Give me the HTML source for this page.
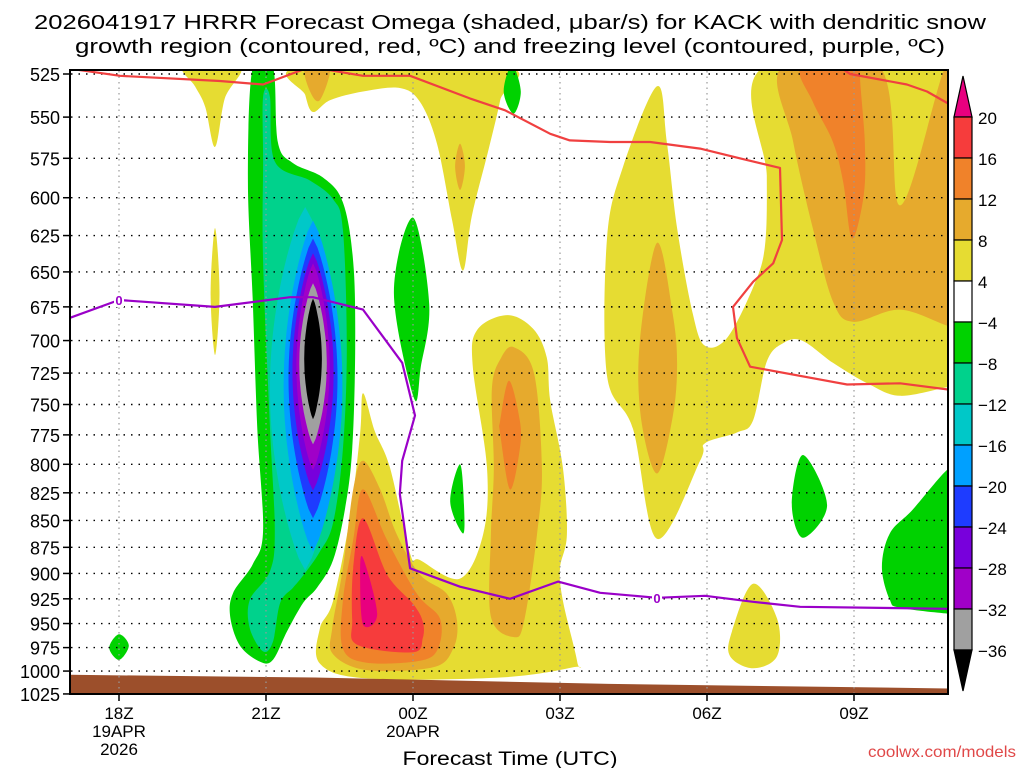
<!DOCTYPE html>
<html><head><meta charset="utf-8"><style>
html,body{margin:0;padding:0;background:#fff;}
svg{display:block;font-family:"Liberation Sans",sans-serif;}
</style></head><body>
<svg id="chart" width="1024" height="768" viewBox="0 0 1024 768" xmlns="http://www.w3.org/2000/svg">
<defs><clipPath id="plotclip"><rect x="70" y="70" width="878" height="624"/></clipPath></defs>
<g id="title">
<text x="510" y="29" text-anchor="middle" font-size="20" textLength="952" lengthAdjust="spacingAndGlyphs">2026041917 HRRR Forecast Omega (shaded, μbar/s) for KACK with dendritic snow</text>
<text x="510" y="53" text-anchor="middle" font-size="20" textLength="870" lengthAdjust="spacingAndGlyphs">growth region (contoured, red, ºC) and freezing level (contoured, purple, ºC)</text>
</g>
<g id="shading" clip-path="url(#plotclip)"></g>
<g id="grid"></g>
<g id="lines" clip-path="url(#plotclip)"></g>
<rect x="70" y="70" width="878" height="624" fill="none" stroke="#000" stroke-width="2"/>
<g id="axes"></g>
<g id="colorbar"></g>
<text x="510" y="765" text-anchor="middle" font-size="19" textLength="215" lengthAdjust="spacingAndGlyphs">Forecast Time (UTC)</text>
<text x="1016" y="757" text-anchor="end" font-size="16" fill="#e04848" textLength="148" lengthAdjust="spacingAndGlyphs">coolwx.com/models</text>
</svg>
<script>
// ---- data ----
const pressureTicks = [525,550,575,600,625,650,675,700,725,750,775,800,825,850,875,900,925,950,975,1000,1025];
const timeTickHours = [18,21,24,27,30,33];
const timeTickLabels = [["18Z","19APR","2026"],["21Z"],["00Z","20APR"],["03Z"],["06Z"],["09Z"]];
const colorLevels = [20,16,12,8,4,-4,-8,-12,-16,-20,-24,-28,-32,-36];
const levelColors = ["#f63c3c","#f0822a","#e6aa2d","#e6dc32","#ffffff","#00d200","#00d28c","#00c8c8","#00a0ff","#1e3cff","#7800dc","#a000c8","#a0a0a0"];
const surfaceHours = [17,22,28,35];
const surfaceP = [1004,1007,1014,1019];

// positive regions [hour, hPa]
const yellowTopLeft = [[19.33,521],[20.47,521],[20.16,539],[19.96,568],[19.76,544],[19.55,532]];
const yellowTopMid = [[21.69,521],[25.88,521],[25.78,540],[25.53,571],[25.2,612],[25.02,649],[24.8,615],[24.49,566],[24.14,541],[23.73,533],[22.98,535],[22.31,540],[21.96,547],[21.8,537]];
const dkyellowTopSpot = [[21.8,521],[22.3,521],[22.1,540],[21.9,535]];
const dkyellowTopLens = [[24.96,566],[25.06,580],[24.96,595],[24.86,580]];
const yellowThin = [[19.96,620],[20.05,665],[19.96,711],[19.87,665]];
const yellowLow = [[22.98,741],[23.22,772],[23.53,803],[23.94,881],[24.14,887],[24.96,905],[25.43,863],[25.51,803],[25.22,720],[25.31,692],[25.92,681],[26.45,691],[26.73,713],[26.8,747],[27.06,803],[27.14,863],[27.0,895],[27.06,927],[27.35,990],[27.27,996],[25.78,1007],[23.06,1008],[22.1,992],[22.1,955],[22.37,927],[22.71,848],[22.92,774]];
const dkyellowLowLeft = [[22.98,797],[23.33,822],[23.67,863],[24.14,901],[24.69,920],[24.9,948],[24.82,976],[24.41,996],[23.06,999],[22.37,982],[22.35,955],[22.57,895],[22.78,822]];
const dkyellowLowRight = [[26.06,705],[26.47,725],[26.63,803],[26.53,863],[26.27,947],[26.06,964],[25.59,943],[25.59,863],[25.65,803],[25.61,737],[25.8,713]];
const orangeLowRight = [[25.96,731],[26.18,763],[26.18,787],[25.98,822],[25.78,774],[25.78,763]];
const orangeLowLeft = [[22.98,822],[23.47,868],[24.08,920],[24.55,945],[24.51,976],[24.14,989],[23.06,991],[22.57,976],[22.57,927],[22.78,868]];
const redLow = [[22.98,848],[23.47,901],[24.0,930],[24.2,948],[24.2,965],[24.0,980],[22.86,972],[22.76,946],[22.78,895]];
const pinkLow = [[22.98,885],[23.27,940],[22.98,951],[22.92,901]];
const yellowRight = [[28.98,532],[29.18,565],[29.39,620],[29.71,680],[29.96,704],[30.41,698],[30.94,661],[31.18,633],[31.22,586],[31.16,521],[34.92,521],[35.2,521],[35.2,736],[34.92,736],[33.94,743],[33.27,733],[32.57,717],[31.94,700],[31.55,702],[31.22,716],[30.94,763],[30.61,773],[29.96,782],[29.86,797],[28.98,867],[28.49,770],[27.96,727],[27.96,627],[28.29,580]];
const dkyellowLens = [[28.98,630],[29.3,680],[29.39,718],[29.3,760],[28.98,808],[28.65,760],[28.63,700]];
const dkyellowRight = [[31.53,521],[33.53,521],[33.94,605],[34.86,521],[35.2,521],[35.2,689],[34.92,689],[33.94,677],[32.98,686],[32.57,671],[32.16,620],[31.76,565]];
const orangeRight = [[31.94,521],[32.16,541],[32.57,565],[32.78,590],[32.96,627],[33.2,598],[33.22,565],[33.12,525],[33.2,521]];
const yellowBottomRight = [[30.94,910],[31.43,945],[31.43,984],[30.94,997],[30.47,984],[30.51,958]];

// negative regions
const greenColumn = [[20.73,521],[21.14,521],[21.24,565],[21.55,578],[22.16,587],[22.57,603],[22.78,643],[22.82,705],[22.76,787],[22.61,840],[22.37,887],[22.04,914],[21.76,929],[21.43,958],[21.14,988],[20.88,990],[20.47,973],[20.27,943],[20.33,919],[20.73,891],[20.94,859],[20.82,768],[20.73,671],[20.63,588]];
const seagreenColumn = [[20.94,538],[21.08,538],[21.18,577],[21.9,589],[22.37,601],[22.57,621],[22.65,705],[22.57,787],[22.37,852],[22.1,879],[21.76,902],[21.55,914],[21.29,929],[21.14,969],[20.94,979],[20.67,955],[20.67,926],[21.08,898],[21.18,859],[21.08,768],[20.94,643],[20.94,577]];
const greenMidnight = [[24.0,613],[24.33,673],[24.16,720],[24.02,745],[23.61,665]];
const greenSmall1 = [[24.96,800],[25.04,836],[25.02,862],[24.76,833]];
const greenSmall18Z = [[18.0,961],[18.2,973],[18.0,988],[17.8,975]];
const greenSmall07Z = [[31.96,792],[32.45,836],[31.96,866],[31.73,835]];
const greenRight = [[35.2,804],[34.92,804],[34.2,840],[33.73,862],[33.57,894],[33.73,926],[33.94,934],[34.92,940],[35.2,940]];
const greenTop = [[26.02,520],[26.2,535],[26.05,548],[25.85,535]];
// core lenses: [centerHour, halfWidthHours, topP, bottomP]
const lensCyan = [21.8,0.72,606,897];
const lensLightBlue = [21.96,0.6,615,879];
const lensBlue = [21.96,0.5,627,848];
const lensPurple = [21.96,0.42,637,823];
const lensMagenta = [21.96,0.34,644,805];
const lensGray = [21.96,0.28,658,783];
const lensBlack = [21.96,0.18,669,762];

// lines
const dgzHours1 = [17.0,18.02,20.06,20.94,21.9,22.98,23.94,25.16,25.88,26.8,27.2,28.02,28.84,29.86,30.67,31.49,31.53,31.35,30.94,30.53,30.61,30.88,32.86,33.94,34.92];
const dgzP1 = [522,526,529,531,521,526,526,539,546,560,564,565,565,569,575,581,628,644,657,675,698,720,734,733,738];
const dgzHours2 = [32.71,32.92,34.08,34.49,34.92];
const dgzP2 = [521,525,531,535,542];
const frzHours = [17.0,18.0,19.96,21.49,21.96,22.98,23.78,24.04,23.78,23.73,23.94,24.96,25.98,26.96,27.82,28.98,29.96,30.94,31.9,34.92];
const frzP = [683,670,675,668,668,677,717,759,797,826,895,913,925,908,919,924,922,928,933,935];
const frzLabelHours = [18.0,28.98];

// ---- scales ----
const NS='http://www.w3.org/2000/svg';
const X = h => 119 + (h-18)*49;
const Y = p => 74 + 926.6*Math.log(p/525);
function mk(tag, attrs, parent){const e=document.createElementNS(NS,tag);for(const k in attrs)e.setAttribute(k,attrs[k]);parent.appendChild(e);return e;}
function smooth(pts){
  const P=pts.map(d=>[X(d[0]),Y(d[1])]);const n=P.length;let s=`M${P[0][0].toFixed(1)},${P[0][1].toFixed(1)}`;
  for(let i=0;i<n;i++){const p0=P[(i-1+n)%n],p1=P[i],p2=P[(i+1)%n],p3=P[(i+2)%n];
    const c1=[p1[0]+(p2[0]-p0[0])/6,p1[1]+(p2[1]-p0[1])/6],c2=[p2[0]-(p3[0]-p1[0])/6,p2[1]-(p3[1]-p1[1])/6];
    s+=`C${c1[0].toFixed(1)},${c1[1].toFixed(1)} ${c2[0].toFixed(1)},${c2[1].toFixed(1)} ${p2[0].toFixed(1)},${p2[1].toFixed(1)}`;}
  return s+'Z';
}
function lensPath(L){
  const [c,w,pt,pb]=L;const y0=Y(pt),y1=Y(pb);const N=30;let r=[],l=[];
  for(let i=0;i<=N;i++){const t=i/N;const y=y0+(y1-y0)*t;const hw=w*49*Math.pow(Math.sin(Math.PI*t),0.75);r.push([X(c)+hw,y]);l.unshift([X(c)-hw,y]);}
  return 'M'+r.concat(l).map(p=>p[0].toFixed(1)+','+p[1].toFixed(1)).join('L')+'Z';
}
const shading=document.getElementById('shading');
function fillPoly(pts,color,name){
  const e=mk('path',{d:smooth(pts),fill:color},shading);
  
  
}
function fillLens(L,color,name){
  const e=mk('path',{d:lensPath(L),fill:color},shading);
  
  
}
const C=levelColors;
fillPoly(yellowTopLeft,C[3],'omega-4-8-top-left');
fillPoly(yellowTopMid,C[3],'omega-4-8-top-mid');
fillPoly(dkyellowTopSpot,C[2],'omega-8-12-top-spot');
fillPoly(dkyellowTopLens,C[2],'omega-8-12-top-lens');
fillPoly(yellowThin,C[3],'omega-4-8-thin');
fillPoly(yellowLow,C[3],'omega-4-8-low');
fillPoly(dkyellowLowLeft,C[2],'omega-8-12-low-left');
fillPoly(dkyellowLowRight,C[2],'omega-8-12-low-right');
fillPoly(orangeLowRight,C[1],'omega-12-16-low-right');
fillPoly(orangeLowLeft,C[1],'omega-12-16-low-left');
fillPoly(redLow,C[0],'omega-16-20-low');
fillPoly(pinkLow,'#e8007f','omega-over-20');
fillPoly(yellowRight,C[3],'omega-4-8-right');
fillPoly(dkyellowLens,C[2],'omega-8-12-lens');
fillPoly(dkyellowRight,C[2],'omega-8-12-right');
fillPoly(orangeRight,C[1],'omega-12-16-right');
fillPoly(yellowBottomRight,C[3],'omega-4-8-bottom-right');
fillPoly(greenColumn,C[5],'omega-neg4-column');
fillPoly(seagreenColumn,C[6],'omega-neg8-column');
fillPoly(greenMidnight,C[5],'omega-neg4-midnight');
fillPoly(greenSmall1,C[5],'omega-neg4-small');
fillPoly(greenSmall18Z,C[5],'omega-neg4-18z');
fillPoly(greenSmall07Z,C[5],'omega-neg4-07z');
fillPoly(greenRight,C[5],'omega-neg4-right');
fillPoly(greenTop,C[5],'omega-neg4-top');
fillLens(lensCyan,C[7],'omega-neg12-core');
fillLens(lensLightBlue,C[8],'omega-neg16-core');
fillLens(lensBlue,C[9],'omega-neg20-core');
fillLens(lensPurple,C[10],'omega-neg24-core');
fillLens(lensMagenta,C[11],'omega-neg28-core');
fillLens(lensGray,C[12],'omega-neg32-core');
fillLens(lensBlack,'#000','omega-neg36-core');
// ground
let gd=`M${X(surfaceHours[0])},${Y(1030)}`;
surfaceHours.forEach((h,i)=>{gd+=`L${X(h).toFixed(1)},${Y(surfaceP[i]).toFixed(1)}`;});
gd+=`L${X(surfaceHours[surfaceHours.length-1])},${Y(1030)}Z`;
const ground=mk('path',{d:gd,fill:'#9c4f2b'},shading);



// grid + axes
const grid=document.getElementById('grid'),axes=document.getElementById('axes');
pressureTicks.forEach(p=>{
  const y=Y(p);
  const g=mk('line',{x1:71,x2:947,y1:y,y2:y,stroke:'#000','stroke-width':1.4,'stroke-dasharray':'1.5 6'},grid);
  
  
  const tk=mk('line',{x1:63,x2:70,y1:y,y2:y,stroke:'#000','stroke-width':1.5},axes);
  
  
  const t=mk('text',{x:60,y:y+7,'text-anchor':'end','font-size':18},axes);
  t.textContent=p;
  
  
});
timeTickHours.forEach((h,i)=>{
  const x=X(h);
  const g=mk('line',{x1:x,x2:x,y1:71,y2:693,stroke:'#999','stroke-width':1.2,'stroke-dasharray':'1.5 4'},grid);
  
  
  const tk=mk('line',{x1:x,x2:x,y1:694,y2:701,stroke:'#000','stroke-width':1.5},axes);
  
  
  timeTickLabels[i].forEach((s,j)=>{
    const t=mk('text',{x:x,y:719+j*18,'text-anchor':'middle','font-size':17},axes);
    t.textContent=s;
    
    
  });
});

// lines
const lines=document.getElementById('lines');
function polyline(hs,ps,color,name){
  const e=mk('polyline',{points:hs.map((h,i)=>X(h).toFixed(1)+','+Y(ps[i]).toFixed(1)).join(' '),fill:'none',stroke:color,'stroke-width':2.2,'stroke-linejoin':'round'},lines);
  
  
}
polyline(dgzHours1,dgzP1,'#f04040','dgz-contour-main');
polyline(dgzHours2,dgzP2,'#f04040','dgz-contour-top-right');
polyline(frzHours,frzP,'#9a00c8','freezing-level-line');
frzLabelHours.forEach(h=>{
  let p=frzP[0];for(let i=0;i<frzHours.length-1;i++){if(frzHours[i]<=h&&frzHours[i+1]>=h){const t=(h-frzHours[i])/(frzHours[i+1]-frzHours[i]);p=frzP[i]+t*(frzP[i+1]-frzP[i]);break;}}
  const bg=mk('rect',{x:X(h)-5,y:Y(p)-7,width:10,height:14,fill:'#fff'},lines);
  
  
  const t=mk('text',{x:X(h),y:Y(p)+5,'text-anchor':'middle','font-size':13,'font-weight':'bold',fill:'#9a00c8'},lines);
  t.textContent='0';
  
  
});

// colorbar
const cb=document.getElementById('colorbar');
const cbTop=117,cbStep=41,cbX=954,cbW=18;
const tri=mk('polygon',{points:`${cbX},${cbTop} ${cbX+cbW},${cbTop} ${cbX+cbW/2},${cbTop-41}`,fill:'#e8007f',stroke:'#000','stroke-width':1.2},cb);


levelColors.forEach((c,i)=>{
  const r=mk('rect',{x:cbX,y:cbTop+i*cbStep,width:cbW,height:cbStep,fill:c,stroke:'#000','stroke-width':1.2},cb);
  
  
});
const yb=cbTop+levelColors.length*cbStep;
const tri2=mk('polygon',{points:`${cbX},${yb} ${cbX+cbW},${yb} ${cbX+cbW/2},${yb+41}`,fill:'#000',stroke:'#000','stroke-width':1.2},cb);


colorLevels.forEach((v,i)=>{
  const t=mk('text',{x:978,y:cbTop+i*cbStep+7,'font-size':17},cb);
  t.textContent=v<0?'\u2212'+(-v):String(v);
  
  
});
</script>
</body></html>
